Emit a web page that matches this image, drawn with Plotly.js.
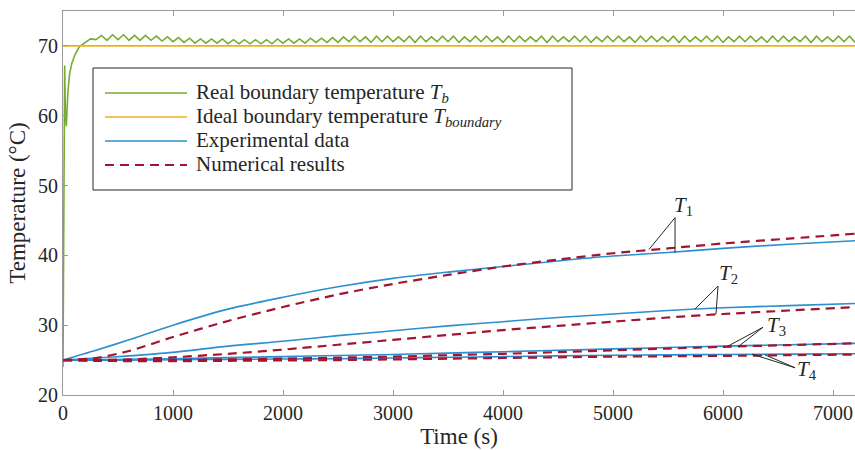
<!DOCTYPE html>
<html>
<head>
<meta charset="utf-8">
<script src="https://cdn.plot.ly/plotly-3.0.1.min.js"></script>
<style>html,body{margin:0;padding:0;background:#fff;}#chart{width:855px;height:450px;}</style>
</head>
<body>
<div id="chart"></div>
<script>
// ---- data ----
const greenStartT = [0, 5, 10, 15, 22, 30, 45, 60, 80, 110, 150, 200, 250, 300];
const greenStartV = [24, 45, 66, 67.2, 60, 58.5, 63.5, 66, 67.5, 68.8, 69.9, 70.5, 71.0, 70.9];
const greenOscT0 = 300, greenOscDt = 50;
const greenOscV = [
  70.9,71.5,70.8,71.6,70.9,71.6,70.8,71.5,70.8,71.5,70.8,71.4,70.7,71.3,70.6,
  71.2,70.5,71.1,70.4,71.0,70.4,71.0,70.4,71.0,70.3,70.9,70.3,70.9,70.3,70.9,
  70.3,70.9,70.3,71.0,70.4,71.0,70.4,71.0,70.4,71.1,70.5,71.1,70.5,71.2,70.5,
  71.3,70.6,71.4,70.6,71.3,70.5,71.4,70.6,71.4,70.6,
  71.3,70.6,71.4,70.5,71.4,70.6,71.3,70.6,71.4,70.6,
  71.4,70.5,71.3,70.6,71.4,70.6,71.4,70.6,71.3,70.5,
  71.4,70.6,71.4,70.6,71.3,70.6,71.4,70.5,71.4,70.6,
  71.3,70.6,71.4,70.6,71.4,70.5,71.3,70.6,71.4,70.6,
  71.4,70.6,71.3,70.5,71.4,70.6,71.4,70.6,71.3,70.6,
  71.4,70.5,71.4,70.6,71.3,70.6,71.4,70.6,71.4,70.5,
  71.3,70.6,71.4,70.6,71.4,70.6,71.3,70.5,71.4,70.6,
  71.4,70.6,71.3,70.6,71.4,70.5,71.4,70.6,71.3,70.6,
  71.4,70.6,71.4,70.5
];
const idealT = [0, 7200];
const idealV = [70, 70];

const timeS = [0, 300, 600, 1000, 1500, 2000, 2500, 3000, 3500, 4000, 4500, 5000, 5500, 6000, 6600, 7200];
const exp1 = [25, 26.4, 27.9, 30.0, 32.3, 34.0, 35.5, 36.7, 37.6, 38.4, 39.2, 39.9, 40.4, 41.0, 41.6, 42.1];
const num1 = [25, 25.3, 26.3, 28.3, 30.6, 32.6, 34.4, 35.9, 37.2, 38.4, 39.4, 40.3, 41.0, 41.7, 42.4, 43.1];
const exp2 = [25, 25.3, 25.6, 26.1, 27.0, 27.7, 28.5, 29.2, 29.9, 30.5, 31.1, 31.6, 32.1, 32.5, 32.8, 33.1];
const num2 = [25, 25.0, 25.1, 25.4, 25.9, 26.5, 27.2, 27.9, 28.6, 29.3, 29.9, 30.5, 31.1, 31.6, 32.1, 32.6];
const exp3 = [25, 25.05, 25.1, 25.2, 25.35, 25.5, 25.65, 25.8, 26.0, 26.2, 26.4, 26.6, 26.8, 27.0, 27.2, 27.4];
const num3 = [25, 24.95, 24.95, 25.0, 25.1, 25.2, 25.35, 25.5, 25.7, 25.9, 26.15, 26.4, 26.65, 26.9, 27.15, 27.4];
const exp4 = [25, 25.0, 25.0, 25.05, 25.1, 25.15, 25.2, 25.3, 25.4, 25.5, 25.6, 25.7, 25.75, 25.8, 25.85, 25.9];
const num4 = [25, 24.9, 24.85, 24.85, 24.9, 24.95, 25.0, 25.1, 25.2, 25.3, 25.4, 25.5, 25.55, 25.6, 25.7, 25.8];

const legendLabels = [
  'Real boundary temperature <i>T</i><sub><i>b</i></sub>',
  'Ideal boundary temperature <i>T</i><sub><i>boundary</i></sub>',
  'Experimental data',
  'Numerical results'
];
const curveLabels = ['<i>T</i><sub>1</sub>', '<i>T</i><sub>2</sub>', '<i>T</i><sub>3</sub>', '<i>T</i><sub>4</sub>'];
// label positions and pointer lines (data coordinates): [textX, textY, apexX, apexY, end1X, end1Y, end2X, end2Y]
const pointers = [
  [5640, 47.0, 5564, 45.4, 5327, 40.85, 5564, 40.4],
  [6050, 37.4, 5955, 35.6, 5745, 32.3, 5936, 31.6],
  [6490, 29.9, 6364, 29.7, 6045, 27.0, 6136, 26.9],
  [6760, 23.6, 6655, 23.9, 6264, 25.85, 6382, 25.75]
];

// ---- styles ----
const GREEN = '#77ac30', YELLOW = '#edb120', BLUE = '#2b8fd0', RED = '#a2142f';
const FONT = 'Liberation Serif, Times New Roman, serif';
const TXT = '#262626';
const DASH = '9px,6px';

const traces = [];
traces.push({x: greenStartT, y: greenStartV, mode: 'lines', line: {color: GREEN, width: 1.6}, hoverinfo: 'skip'});
traces.push({x0: greenOscT0, dx: greenOscDt, y: greenOscV, mode: 'lines', line: {color: GREEN, width: 1.6}, hoverinfo: 'skip'});
traces.push({x: idealT, y: idealV, mode: 'lines', line: {color: YELLOW, width: 1.8}, hoverinfo: 'skip'});
[exp1, exp2, exp3, exp4].forEach(v => traces.push({x: timeS, y: v, mode: 'lines', line: {color: BLUE, width: 1.6, shape: 'spline', smoothing: 0.8}}));
[num1, num2, num3, num4].forEach(v => traces.push({x: timeS, y: v, mode: 'lines', line: {color: RED, width: 2.2, dash: DASH, shape: 'spline', smoothing: 0.8}}));

// plot area geometry for decorations (pixels)
const L = 63, T = 11, W = 792, H = 384;
const px = p => (p - L) / W;
const py = p => (T + H - p) / H;

const shapes = [];
const annotations = [];
// legend box
shapes.push({type: 'rect', xref: 'paper', yref: 'paper', x0: px(93), x1: px(572), y0: py(190), y1: py(68),
  line: {color: '#262626', width: 1}, fillcolor: 'rgba(255,255,255,1)', layer: 'above'});
const legColors = [GREEN, YELLOW, BLUE, RED];
const legRows = [93, 117, 141, 165];
legendLabels.forEach((lab, i) => {
  shapes.push({type: 'line', xref: 'paper', yref: 'paper', x0: px(105), x1: px(187), y0: py(legRows[i]), y1: py(legRows[i]),
    line: {color: legColors[i], width: i === 3 ? 2.2 : 1.6, dash: i === 3 ? DASH : 'solid'}, layer: 'above'});
  annotations.push({xref: 'paper', yref: 'paper', x: px(195), y: py(legRows[i] - 14), xanchor: 'left', yanchor: 'top',
    text: lab, showarrow: false, font: {family: FONT, size: 21, color: TXT}, borderpad: 0});
});
// curve labels with pointer lines
pointers.forEach((p, i) => {
  shapes.push({type: 'line', xref: 'x', yref: 'y', x0: p[2], y0: p[3], x1: p[4], y1: p[5], line: {color: '#262626', width: 1}});
  shapes.push({type: 'line', xref: 'x', yref: 'y', x0: p[2], y0: p[3], x1: p[6], y1: p[7], line: {color: '#262626', width: 1}});
  annotations.push({xref: 'x', yref: 'y', x: p[0], y: p[1], text: curveLabels[i], showarrow: false,
    xanchor: 'center', yanchor: 'middle', font: {family: FONT, size: 21, color: TXT}});
});

const layout = {
  width: 855, height: 450,
  margin: {l: L, r: 855 - L - W, t: T, b: 450 - T - H, pad: 0},
  paper_bgcolor: '#fff', plot_bgcolor: '#fff',
  showlegend: false,
  font: {family: FONT, size: 20, color: TXT},
  xaxis: {
    range: [0, 7200], tickvals: [0, 1000, 2000, 3000, 4000, 5000, 6000, 7000],
    ticks: 'inside', ticklen: 5, tickcolor: '#9a9a9a', tickwidth: 1,
    showline: true, linecolor: '#9a9a9a', linewidth: 1, mirror: 'ticks',
    showgrid: false, zeroline: false,
    tickfont: {family: FONT, size: 20, color: TXT},
    title: {text: 'Time (s)', font: {family: FONT, size: 23, color: TXT}, standoff: 2}
  },
  yaxis: {
    range: [20, 75], tickvals: [20, 30, 40, 50, 60, 70],
    ticks: 'inside', ticklen: 5, tickcolor: '#9a9a9a', tickwidth: 1,
    showline: true, linecolor: '#9a9a9a', linewidth: 1, mirror: false,
    showgrid: false, zeroline: false,
    tickfont: {family: FONT, size: 20, color: TXT},
    title: {text: 'Temperature (°C)', font: {family: FONT, size: 23, color: TXT}, standoff: 5}
  },
  shapes: shapes,
  annotations: annotations
};

Plotly.newPlot('chart', traces, layout, {displayModeBar: false});
</script>
</body>
</html>
